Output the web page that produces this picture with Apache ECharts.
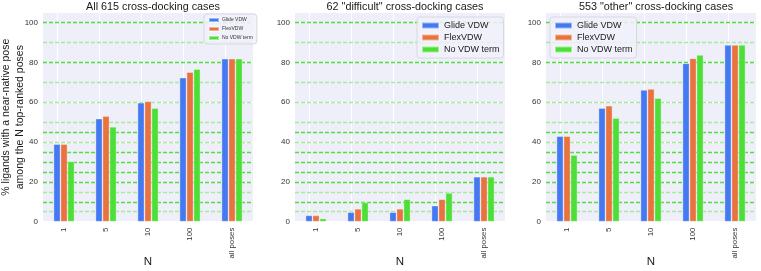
<!DOCTYPE html>
<html><head><meta charset="utf-8">
<script src="https://cdn.jsdelivr.net/npm/echarts@6/dist/echarts.min.js"></script>
<style>html,body{margin:0;padding:0;background:#fff}#c{width:761px;height:271px}</style>
</head><body><div id="c"></div>
<script>
const categories = ['1', '5', '10', '100', 'all poses'];
const seriesNames = ['Glide VDW', 'FlexVDW', 'No VDW term'];
const panelTitles = ['All 615 cross-docking cases', '62 "difficult" cross-docking cases', '553 "other" cross-docking cases'];
// panel 1: all 615
const allGlide = [39.0, 51.8, 59.8, 72.4, 81.9];
const allFlex = [39.0, 53.1, 60.5, 75.2, 81.9];
const allNoVdw = [30.3, 47.7, 57.1, 76.7, 81.9];
// panel 2: 62 difficult
const diffGlide = [3.2, 4.8, 4.8, 8.1, 22.6];
const diffFlex = [3.2, 6.5, 6.5, 11.3, 22.6];
const diffNoVdw = [1.6, 9.7, 11.3, 14.5, 22.6];
// panel 3: 553 other
const otherGlide = [43.0, 57.1, 66.2, 79.6, 88.8];
const otherFlex = [43.0, 58.3, 66.7, 82.1, 88.8];
const otherNoVdw = [33.5, 52.1, 62.1, 83.8, 88.8];
const yTicks = [0, 20, 40, 60, 80, 100];
const refLinesStrong = [100, 80, 45, 35, 30, 25, 20, 10];
const refLinesLight = [90, 70, 60, 50, 40, 15, 5];

const panelData = [
  [allGlide, allFlex, allNoVdw],
  [diffGlide, diffFlex, diffNoVdw],
  [otherGlide, otherFlex, otherNoVdw]
];
const colors = ['#4479f2', '#e8733f', '#4ddf38'];
const gridLefts = [43, 295, 546];
const gridW = 210, gridTop = 12.7, gridH = 209;
const FONT = 'Liberation Sans, Arial, sans-serif';

const chart = echarts.init(document.getElementById('c'), null, {renderer: 'canvas'});
const grids = [], xAxes = [], yAxes = [], series = [], titles = [];
for (let p = 0; p < 3; p++) {
  grids.push({left: gridLefts[p], top: gridTop, width: gridW, height: gridH, show: true, backgroundColor: '#eeeff9',
    borderWidth: 0, containLabel: false, outerBoundsMode: 'none'});
  titles.push({text: panelTitles[p], left: gridLefts[p] + gridW / 2, top: -3, textAlign: 'center',
    textStyle: {fontFamily: FONT, fontSize: 10.8, fontWeight: 'normal', color: '#1a1a1a'}});
  xAxes.push({type: 'category', gridIndex: p, data: categories, name: 'N', nameLocation: 'middle', nameGap: 34,
    nameMoveOverlap: false,
    nameTextStyle: {fontFamily: FONT, fontSize: 11.5, color: '#1a1a1a'},
    axisLine: {show: false}, axisTick: {show: false}, splitLine: {show: false},
    axisLabel: {rotate: 90, fontFamily: FONT, fontSize: 7.8, color: '#333', margin: 6}});
  yAxes.push({type: 'value', gridIndex: p, min: 0, max: 105, interval: 20,
    name: p === 0 ? '% ligands with a near-native pose\namong the N top-ranked poses' : '',
    nameLocation: 'middle', nameGap: 16, nameRotate: 90, nameMoveOverlap: false,
    nameTextStyle: {fontFamily: FONT, fontSize: 10.5, color: '#1a1a1a', lineHeight: 14},
    axisLine: {show: false}, axisTick: {show: false},
    splitLine: {show: true, lineStyle: {color: '#ffffff', width: 1}},
    axisLabel: {fontFamily: FONT, fontSize: 8, color: '#333', margin: 5, showMaxLabel: false,
      formatter: v => yTicks.includes(v) ? String(v) : ''}});
  for (let s = 0; s < 3; s++) {
    const ser = {type: 'bar', name: seriesNames[s], xAxisIndex: p, yAxisIndex: p, data: panelData[p][s],
      barGap: '0%', barCategoryGap: '50%',
      itemStyle: {color: colors[s], borderColor: 'rgba(255,255,255,0.45)', borderWidth: 0.8},
      emphasis: {disabled: true}, z: 3};
    if (s === 0) {
      ser.markLine = {silent: true, symbol: 'none', label: {show: false}, animation: false, z: 1,
        data: [
          ...categories.map(c => ({xAxis: c, lineStyle: {color: '#ffffff', width: 1, type: 'solid'}})),
          ...refLinesLight.map(v => ({yAxis: v, lineStyle: {color: '#a6eb9a', width: 1.3, type: [4, 2]}})),
          ...refLinesStrong.map(v => ({yAxis: v, lineStyle: {color: '#4fe03c', width: 1.3, type: [4, 2]}}))
        ]};
    }
    series.push(ser);
  }
}
const legendBase = {data: seriesNames, orient: 'vertical', icon: 'rect', backgroundColor: 'rgba(240,241,250,0.85)',
  borderColor: '#d8d8e0', borderWidth: 1, borderRadius: 3};
const legends = [
  Object.assign({}, legendBase, {left: 204, top: 14, itemWidth: 10, itemHeight: 4, itemGap: 3, padding: [3, 4],
    textStyle: {fontFamily: FONT, fontSize: 5, color: '#333', padding: [0, 0, 0, -2]}}),
  Object.assign({}, legendBase, {left: 417, top: 17, itemWidth: 17, itemHeight: 6, itemGap: 3, padding: [4, 4, 4, 4],
    textStyle: {fontFamily: FONT, fontSize: 9, color: '#1a1a1a'}}),
  Object.assign({}, legendBase, {left: 550, top: 17, itemWidth: 17, itemHeight: 6, itemGap: 3, padding: [4, 4, 4, 4],
    textStyle: {fontFamily: FONT, fontSize: 9, color: '#1a1a1a'}})
];
chart.setOption({animation: false, backgroundColor: '#ffffff', title: titles, grid: grids, xAxis: xAxes, yAxis: yAxes,
  legend: legends, series: series});
</script></body></html>
